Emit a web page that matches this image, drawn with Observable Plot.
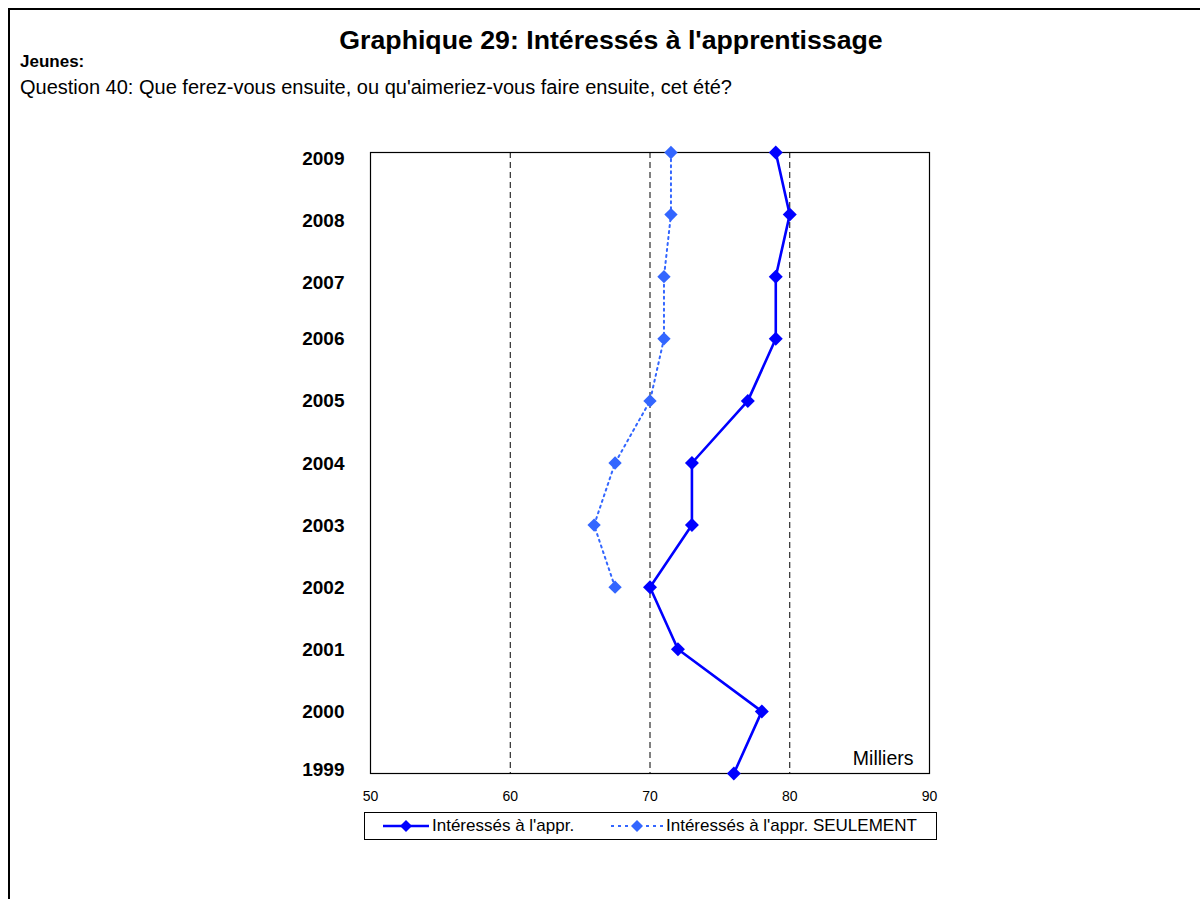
<!DOCTYPE html>
<html>
<head>
<meta charset="utf-8">
<script src="https://cdn.jsdelivr.net/npm/d3@7"></script>
<script src="https://cdn.jsdelivr.net/npm/@observablehq/plot@0.6"></script>
<style>
  html, body { margin: 0; padding: 0; background: #fff; overflow: hidden; }
  body { width: 1200px; height: 899px; position: relative; font-family: "Liberation Sans", Arial, sans-serif; color: #000; }
  .border { position: absolute; left: 8px; top: 8px; width: 1300px; height: 1000px; border-top: 2px solid #000; border-left: 2px solid #000; }
  .t { position: absolute; white-space: nowrap; line-height: 1; }
  #chart { position: absolute; left: 0; top: 0; }
  #legend { position: absolute; left: 364px; top: 812px; width: 571px; height: 26px; border: 1px solid #000; background: #fff; font-size: 17px; }
  #legend .item { position: absolute; top: 0; height: 26px; display: flex; align-items: center; }
  #legend svg { display: block; }
</style>
</head>
<body>
<div class="border"></div>
<div class="t" style="left:0; width:1222px; text-align:center; top:27px; font-size:26.7px; font-weight:bold;">Graphique 29: Intéressés à l'apprentissage</div>
<div class="t" style="left:20px; top:53px; font-size:17px; font-weight:bold;">Jeunes:</div>
<div class="t" style="left:20px; top:77px; font-size:20px;">Question 40: Que ferez-vous ensuite, ou qu'aimeriez-vous faire ensuite, cet été?</div>
<div id="chart"></div>
<div id="legend"></div>
<script>
// ---- data ----
const years = [1999, 2000, 2001, 2002, 2003, 2004, 2005, 2006, 2007, 2008, 2009];
const interesses = [76, 78, 72, 70, 73, 73, 77, 79, 79, 80, 79];
const seulementYears = [2002, 2003, 2004, 2005, 2006, 2007, 2008, 2009];
const seulement = [67.5, 66, 67.5, 70, 71, 71, 71.5, 71.5];
const xTicks = [50, 60, 70, 80, 90];
const gridValues = [60, 70, 80, 90];
const seriesNames = ["Intéressés à l'appr.", "Intéressés à l'appr. SEULEMENT"];
const colors = ["#0000ff", "#3366ff"];
const unitLabel = "Milliers";

const s1 = years.map((y, i) => ({year: y, value: interesses[i]}));
const s2 = seulementYears.map((y, i) => ({year: y, value: seulement[i]}));

// year labels are drawn in three groups with slightly different vertical offsets, as in the original
const upperYears = years.filter(y => y >= 2007);
const middleYears = years.filter(y => y > 1999 && y < 2007);
const lowerYears = years.filter(y => y === 1999);
const yAxisStyle = {tickSize: 0, tickPadding: 26, fontSize: 19, fontWeight: "bold", tickFormat: d => String(d), label: null};

const chart = Plot.plot({
  width: 1200,
  height: 810,
  marginLeft: 370,
  marginRight: 271,
  marginTop: 152,
  marginBottom: 37,
  style: {fontFamily: "'Liberation Sans', Arial, sans-serif", background: "transparent", color: "#000"},
  x: {domain: [50, 90]},
  y: {domain: [1999, 2009]},
  marks: [
    Plot.ruleX(gridValues, {stroke: "#000", strokeWidth: 1, strokeDasharray: "6,4"}),
    Plot.frame({stroke: "#000", strokeWidth: 1.2}),
    Plot.axisX(xTicks, {tickSize: 0, tickPadding: 18, fontSize: 14, label: null}),
    Plot.axisY(upperYears, {...yAxisStyle, dy: 6}),
    Plot.axisY(middleYears, {...yAxisStyle, dy: 0.5}),
    Plot.axisY(lowerYears, {...yAxisStyle, dy: -4}),
    Plot.line(s2, {x: "value", y: "year", stroke: colors[1], strokeWidth: 2, strokeDasharray: "2,4"}),
    Plot.dot(s2, {x: "value", y: "year", symbol: "diamond2", r: 6, fill: colors[1], stroke: "none"}),
    Plot.line(s1, {x: "value", y: "year", stroke: colors[0], strokeWidth: 2.6}),
    Plot.dot(s1, {x: "value", y: "year", symbol: "diamond2", r: 6.3, fill: colors[0], stroke: "none"}),
    Plot.text([unitLabel], {frameAnchor: "bottom-right", dx: -16, dy: -9, fontSize: 19.5, textAnchor: "end", lineAnchor: "bottom"})
  ]
});
document.getElementById("chart").appendChild(chart);

// ---- legend ----
const legend = document.getElementById("legend");
function swatch(color, dashed, lineW, w) {
  const ns = "http://www.w3.org/2000/svg";
  const svg = document.createElementNS(ns, "svg");
  svg.setAttribute("width", w); svg.setAttribute("height", 16);
  const line = document.createElementNS(ns, "line");
  line.setAttribute("x1", 0); line.setAttribute("x2", w);
  line.setAttribute("y1", 8); line.setAttribute("y2", 8);
  line.setAttribute("stroke", color); line.setAttribute("stroke-width", lineW);
  if (dashed) line.setAttribute("stroke-dasharray", "3,4");
  svg.appendChild(line);
  const d = document.createElementNS(ns, "path");
  const c = w / 2, r = 6;
  d.setAttribute("d", `M${c},${8 - r}L${c + r},8L${c},${8 + r}L${c - r},8Z`);
  d.setAttribute("fill", color);
  svg.appendChild(d);
  return svg;
}
const items = [
  {left: 18, w: 46, dashed: false, lw: 2.6},
  {left: 246, w: 52, dashed: true, lw: 2}
];
seriesNames.forEach((name, i) => {
  const it = document.createElement("div");
  it.className = "item";
  it.style.left = items[i].left + "px";
  it.appendChild(swatch(colors[i], items[i].dashed, items[i].lw, items[i].w));
  const sp = document.createElement("span");
  sp.textContent = name;
  sp.style.marginLeft = "3px";
  it.appendChild(sp);
  legend.appendChild(it);
});
</script>
</body>
</html>
